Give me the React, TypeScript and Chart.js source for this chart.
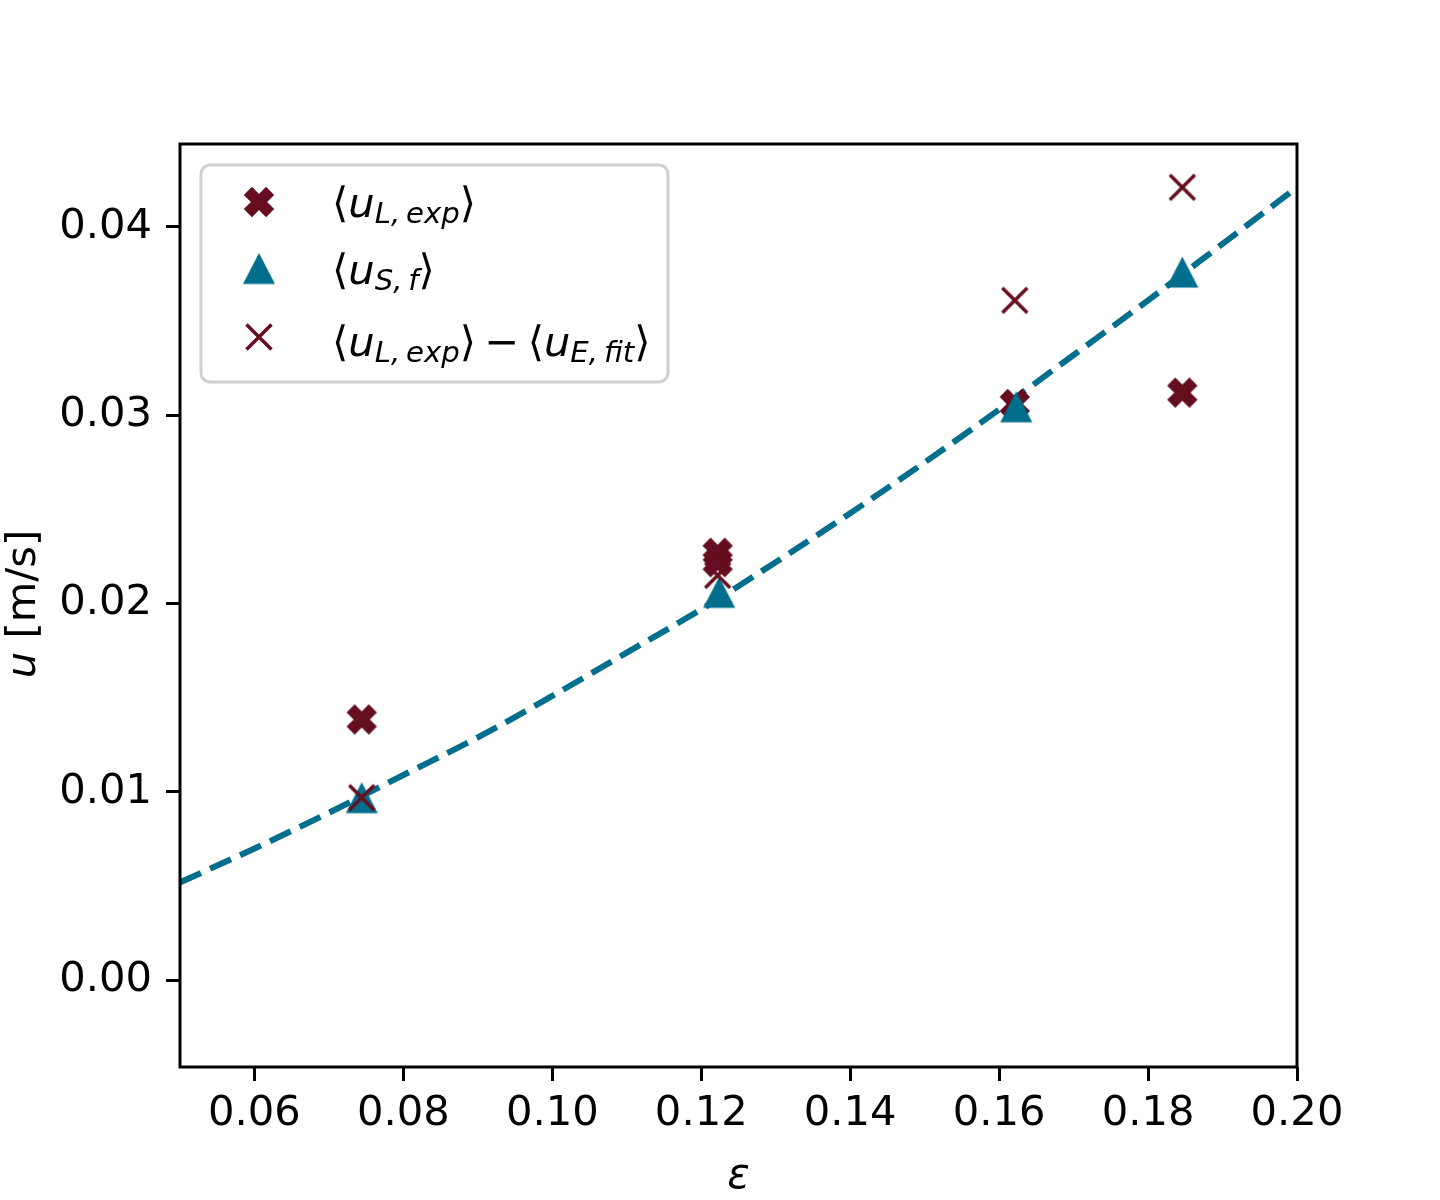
import React, { useEffect, useRef } from "react";
import { Chart, registerables } from "chart.js";

Chart.register(...registerables);

// ---------- data ----------
const xTicks = [0.06, 0.08, 0.1, 0.12, 0.14, 0.16, 0.18, 0.2];
const yTicks = [0.0, 0.01, 0.02, 0.03, 0.04];

const uLexpEps = [0.0744, 0.1222, 0.1222, 0.1621, 0.1846];
const uLexpVals = [0.01385, 0.0227, 0.0222, 0.0306, 0.0312];

const uSfEps = [0.0744, 0.1224, 0.1623, 0.1846];
const uSfVals = [0.0097, 0.0206, 0.03045, 0.0376];

const uDiffEps = [0.0744, 0.1222, 0.1621, 0.1846];
const uDiffVals = [0.0097, 0.0215, 0.0361, 0.0421];

const fitEps = [0.05, 0.06, 0.07, 0.08, 0.09, 0.1, 0.11, 0.12, 0.13, 0.14, 0.15, 0.16, 0.17, 0.18, 0.19, 0.2];
const fitVals = [0.0052, 0.007, 0.0089, 0.0109, 0.0129, 0.0151, 0.0174, 0.0197, 0.0222, 0.0248, 0.0275, 0.0303, 0.0332, 0.0361, 0.0391, 0.0421];

const legendLabels = [
  [
    { t: "⟨" },
    { t: "u", it: true },
    { t: "L,\u2009exp", it: true, sub: true },
    { t: "⟩" },
  ],
  [
    { t: "⟨" },
    { t: "u", it: true },
    { t: "S,\u2009f", it: true, sub: true },
    { t: "⟩" },
  ],
  [
    { t: "⟨" },
    { t: "u", it: true },
    { t: "L,\u2009exp", it: true, sub: true },
    { t: "⟩" },
    { t: "\u2009−\u2009" },
    { t: "⟨" },
    { t: "u", it: true },
    { t: "E,\u2009fit", it: true, sub: true },
    { t: "⟩" },
  ],
];

const MAROON = "#650e1f";
const TEAL = "#006e8c";
const FONT = '"DejaVu Sans"';
const FS = 41.7;

type Part = { t: string; it?: boolean; sub?: boolean };

function partFont(p: Part, size: number) {
  const s = p.sub ? size * 0.7 : size;
  return `${p.it ? "italic " : ""}${s}px ${FONT}`;
}

function measureParts(ctx: CanvasRenderingContext2D, parts: Part[], size: number) {
  let w = 0;
  for (const p of parts) {
    ctx.font = partFont(p, size);
    w += ctx.measureText(p.t).width;
  }
  return w;
}

function drawParts(ctx: CanvasRenderingContext2D, parts: Part[], x: number, y: number, size: number) {
  ctx.textAlign = "left";
  ctx.textBaseline = "alphabetic";
  let cx = x;
  for (const p of parts) {
    ctx.font = partFont(p, size);
    ctx.fillText(p.t, cx, y + (p.sub ? size * 0.15 : 0));
    cx += ctx.measureText(p.t).width;
  }
}

function makeFilledX() {
  const c = document.createElement("canvas");
  c.width = 40;
  c.height = 40;
  const g = c.getContext("2d")!;
  const s = 30;
  const pts = [
    [-1, -3], [-1, -1], [-3, -1], [-3, 1], [-1, 1], [-1, 3],
    [1, 3], [1, 1], [3, 1], [3, -1], [1, -1], [1, -3],
  ];
  const a = Math.PI / 4;
  g.beginPath();
  pts.forEach(([px, py], i) => {
    const ux = (px / 6) * s;
    const uy = (py / 6) * s;
    const rx = ux * Math.cos(a) - uy * Math.sin(a) + 20;
    const ry = ux * Math.sin(a) + uy * Math.cos(a) + 20;
    if (i === 0) g.moveTo(rx, ry);
    else g.lineTo(rx, ry);
  });
  g.closePath();
  g.fillStyle = MAROON;
  g.fill();
  g.lineWidth = 1.5;
  g.strokeStyle = MAROON;
  g.lineJoin = "miter";
  g.stroke();
  return c;
}

function makeTriangle() {
  const c = document.createElement("canvas");
  c.width = 40;
  c.height = 40;
  const g = c.getContext("2d")!;
  g.beginPath();
  g.moveTo(20, 20 - 15.5);
  g.lineTo(20 - 16, 20 + 15.5);
  g.lineTo(20 + 16, 20 + 15.5);
  g.closePath();
  g.fillStyle = TEAL;
  g.fill();
  return c;
}

function makeThinX() {
  const c = document.createElement("canvas");
  c.width = 40;
  c.height = 40;
  const g = c.getContext("2d")!;
  g.strokeStyle = MAROON;
  g.lineWidth = 3.5;
  g.lineCap = "butt";
  g.beginPath();
  g.moveTo(20 - 12.5, 20 - 12.5);
  g.lineTo(20 + 12.5, 20 + 12.5);
  g.moveTo(20 - 12.5, 20 + 12.5);
  g.lineTo(20 + 12.5, 20 - 12.5);
  g.stroke();
  return c;
}

export default function App() {
  const ref = useRef<HTMLCanvasElement | null>(null);

  useEffect(() => {
    document.body.style.margin = "0";
    const canvas = ref.current!;
    const filledX = makeFilledX();
    const tri = makeTriangle();
    const thinX = makeThinX();

    const decor = {
      id: "decor",
      afterDraw(chart: any) {
        const ctx: CanvasRenderingContext2D = chart.ctx;
        const { left, right, top, bottom } = chart.chartArea;
        ctx.save();
        // frame
        ctx.strokeStyle = "#000";
        ctx.lineWidth = 3;
        ctx.strokeRect(left, top, right - left, bottom - top);

        // legend
        ctx.beginPath();
        (ctx as any).roundRect(201, 165, 467, 217, 9);
        ctx.fillStyle = "rgba(255,255,255,0.8)";
        ctx.fill();
        ctx.strokeStyle = "#d0d0d0";
        ctx.lineWidth = 3;
        ctx.stroke();
        const markers = [filledX, tri, thinX];
        const mY = [202, 268.5, 337];
        const tY = [217, 284, 356];
        ctx.fillStyle = "#000";
        for (let i = 0; i < 3; i++) {
          ctx.drawImage(markers[i], 259 - 20, mY[i] - 20);
          drawParts(ctx, legendLabels[i] as Part[], 332, tY[i], FS);
        }

        // x title
        ctx.fillStyle = "#000";
        ctx.font = `italic ${FS}px ${FONT}`;
        ctx.textAlign = "center";
        ctx.textBaseline = "alphabetic";
        ctx.fillText("ε", (left + right) / 2, 1188);

        // y title
        const yParts: Part[] = [{ t: "u", it: true }, { t: " [m/s]" }];
        const w = measureParts(ctx, yParts, FS);
        ctx.translate(35, 604);
        ctx.rotate(-Math.PI / 2);
        drawParts(ctx, yParts, -w / 2, 0, FS);
        ctx.restore();
      },
    };

    const chart = new Chart(canvas, {
      type: "scatter",
      data: {
        datasets: [
          {
            label: "diff",
            data: uDiffEps.map((x, i) => ({ x, y: uDiffVals[i] })),
            pointStyle: thinX as any,
            pointRadius: 20,
            order: 0,
          },
          {
            label: "uSf",
            data: uSfEps.map((x, i) => ({ x, y: uSfVals[i] })),
            pointStyle: tri as any,
            pointRadius: 20,
            order: 1,
          },
          {
            label: "uLexp",
            data: uLexpEps.map((x, i) => ({ x, y: uLexpVals[i] })),
            pointStyle: filledX as any,
            pointRadius: 20,
            order: 2,
          },
          {
            type: "line",
            label: "fit",
            data: fitEps.map((x, i) => ({ x, y: fitVals[i] })),
            showLine: true,
            borderColor: TEAL,
            borderWidth: 6,
            borderDash: [23, 10],
            pointRadius: 0,
            cubicInterpolationMode: "monotone",
            fill: false,
            order: 3,
          } as any,
        ],
      },
      options: {
        responsive: false,
        animation: false,
        devicePixelRatio: 1,
        events: [],
        layout: { padding: { top: 144, right: 143, left: 0, bottom: 0 } },
        plugins: {
          legend: { display: false },
          tooltip: { enabled: false },
          title: { display: false },
        },
        scales: {
          x: {
            type: "linear",
            min: 0.05,
            max: 0.2,
            afterBuildTicks: (s: any) => {
              s.ticks = xTicks.map((v) => ({ value: v }));
            },
            afterFit: (s: any) => {
              s.height = 133;
            },
            border: { display: false },
            grid: {
              drawOnChartArea: false,
              drawTicks: true,
              tickLength: 14,
              color: "#000",
              lineWidth: 3,
            },
            ticks: {
              color: "#000",
              font: { family: "DejaVu Sans", size: FS },
              padding: 8,
              maxRotation: 0,
              autoSkip: false,
              callback: (v: any) => Number(v).toFixed(2),
            },
          },
          y: {
            type: "linear",
            min: -0.0046,
            max: 0.0444,
            afterBuildTicks: (s: any) => {
              s.ticks = yTicks.map((v) => ({ value: v }));
            },
            afterFit: (s: any) => {
              s.width = 180;
            },
            border: { display: false },
            grid: {
              drawOnChartArea: false,
              drawTicks: true,
              tickLength: 14,
              color: "#000",
              lineWidth: 3,
            },
            ticks: {
              color: "#000",
              font: { family: "DejaVu Sans", size: FS },
              padding: 14,
              autoSkip: false,
              callback: (v: any) => Number(v).toFixed(2),
            },
          },
        },
      },
      plugins: [decor],
    } as any);

    return () => chart.destroy();
  }, []);

  return (
    <div style={{ position: "absolute", left: 0, top: 0, width: 1440, height: 1200, background: "#fff" }}>
      <canvas ref={ref} width={1440} height={1200} style={{ width: 1440, height: 1200, display: "block" }} />
    </div>
  );
}
